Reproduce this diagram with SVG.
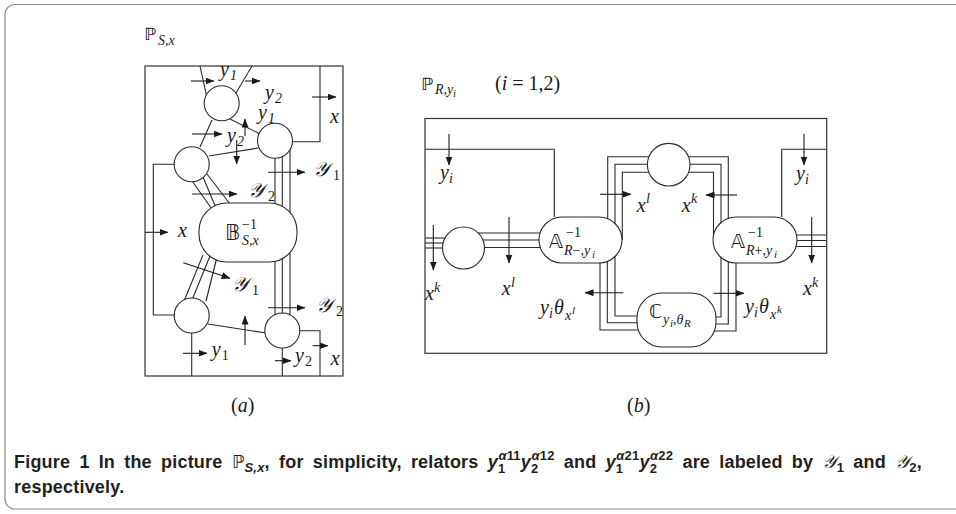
<svg xmlns="http://www.w3.org/2000/svg" width="956" height="514" viewBox="0 0 956 514">
<defs>
<marker id="ah" markerWidth="9" markerHeight="7" refX="8.5" refY="3.5" orient="auto" markerUnits="userSpaceOnUse"><path d="M0,0 L9,3.5 L0,7 z" fill="#1a1a1a"/></marker>
</defs>
<style>
.frame{fill:none;stroke:#8a8a8a;stroke-width:1.2}
.box{fill:none;stroke:#333;stroke-width:1.2}
.ln{fill:none;stroke:#2a2a2a;stroke-width:1.1}
.ar{fill:none;stroke:#1a1a1a;stroke-width:1.1;marker-end:url(#ah)}
.nd{fill:#fff;stroke:#2a2a2a;stroke-width:1.1}
.t{font-family:"Liberation Serif",serif;font-style:italic;font-size:20px;fill:#1a1a1a}
.s{font-size:14px}
.ss{font-size:11px}
.up{font-style:normal}
.bb{font-family:"DejaVu Sans",sans-serif;font-style:normal}
.cap{font-family:"Liberation Sans",sans-serif;font-weight:bold;font-size:18px;fill:#231f20}
.ci{font-style:italic}
.cs{font-size:13px}
</style>
<rect width="956" height="514" fill="#fff"/>
<path class="frame" d="M960,4.5 H15 A10,10 0 0 0 5,14.5 V499 A10,10 0 0 0 15,509 H960"/>

<rect id="frame-a" class="box" x="145" y="66" width="198" height="310"/>
<g id="connectors">
 <!-- panel a -->
 <line class="ln" x1="200" y1="66" x2="207" y2="98"/>
 <line class="ln" x1="252" y1="66" x2="233" y2="98"/>
 <line class="ar" x1="191" y1="81" x2="214" y2="81"/>
 <line class="ar" x1="245" y1="81" x2="260" y2="81"/>
 <path class="ln" d="M292,141.7 H320 V66"/>
 <line class="ar" x1="312" y1="97" x2="336" y2="97"/>
 <line class="ln" x1="230" y1="119" x2="260" y2="134"/>
 <line class="ar" x1="245" y1="136" x2="245" y2="119"/>
 <line class="ln" x1="212" y1="120" x2="200" y2="147"/>
 <line class="ar" x1="192" y1="134" x2="222" y2="134"/>
 <line class="ln" x1="209" y1="156" x2="258" y2="148"/>
 <line class="ar" x1="236.7" y1="140" x2="236.7" y2="164"/>
 <path class="ln" d="M175,164.3 H153.3 V315 H175"/>
 <line class="ar" x1="145" y1="232.3" x2="168" y2="232.3"/>
 <line class="ln" x1="275" y1="150" x2="275" y2="325"/>
 <line class="ln" x1="282.3" y1="150" x2="282.3" y2="325"/>
 <line class="ln" x1="290" y1="148" x2="290" y2="325"/>
 <line class="ar" x1="268" y1="172.3" x2="305" y2="172.3"/>
 <line class="ln" x1="190" y1="178" x2="214" y2="212"/>
 <line class="ln" x1="203" y1="177" x2="216" y2="208"/>
 <line class="ln" x1="207" y1="174" x2="230" y2="204"/>
 <line class="ar" x1="192" y1="194" x2="237" y2="194"/>
 <line class="ln" x1="203" y1="255" x2="184" y2="301"/>
 <line class="ln" x1="210" y1="256" x2="192" y2="300"/>
 <line class="ln" x1="217" y1="257" x2="206" y2="301"/>
 <line class="ar" x1="183.3" y1="262.7" x2="230" y2="278.3"/>
 <line class="ar" x1="268" y1="307.7" x2="305" y2="307.7"/>
 <line class="ln" x1="208" y1="324" x2="266" y2="333"/>
 <line class="ar" x1="245" y1="345" x2="245" y2="316"/>
 <line class="ln" x1="191.7" y1="333" x2="191.7" y2="376"/>
 <line class="ar" x1="183" y1="353.3" x2="207" y2="353.3"/>
 <line class="ln" x1="282.3" y1="348" x2="282.3" y2="376"/>
 <line class="ar" x1="275" y1="360.7" x2="291" y2="360.7"/>
 <path class="ln" d="M299.5,330.7 H320 V376"/>
 <line class="ar" x1="312.7" y1="345.7" x2="328" y2="345.7"/>

 <!-- panel b -->
 <path class="ln" d="M425,149.3 H554.3 V217"/>
 <line class="ar" x1="449" y1="134" x2="449" y2="165"/>
 <line class="ln" x1="470" y1="233" x2="550" y2="233"/>
 <line class="ln" x1="470" y1="240" x2="550" y2="240"/>
 <line class="ln" x1="470" y1="247.5" x2="550" y2="247.5"/>
 <line class="ar" x1="509" y1="217" x2="509" y2="263"/>
 <line class="ln" x1="425" y1="238" x2="455" y2="238"/>
 <line class="ln" x1="425" y1="243" x2="455" y2="243"/>
 <line class="ln" x1="425" y1="248" x2="455" y2="248"/>
 <line class="ar" x1="433.3" y1="225" x2="433.3" y2="270"/>
 <path class="ln" d="M655,156.7 H607.7 V240"/>
 <path class="ln" d="M655,164.3 H615 V240"/>
 <path class="ln" d="M655,172.3 H622.3 V240"/>
 <line class="ar" x1="600" y1="194.3" x2="631" y2="194.3"/>
 <path class="ln" d="M682,156.7 H728.3 V240"/>
 <path class="ln" d="M682,164.3 H721 V240"/>
 <path class="ln" d="M682,172.3 H713.5 V240"/>
 <line class="ar" x1="737" y1="195" x2="706" y2="195"/>
 <path class="ln" d="M826.7,149.3 H781.7 V217"/>
 <line class="ar" x1="804" y1="134" x2="804" y2="165"/>
 <line class="ln" x1="790" y1="235" x2="826.7" y2="235"/>
 <line class="ln" x1="790" y1="240.5" x2="826.7" y2="240.5"/>
 <line class="ln" x1="790" y1="246.5" x2="826.7" y2="246.5"/>
 <line class="ar" x1="811.7" y1="217" x2="811.7" y2="263"/>
 <path class="ln" d="M721,250 V317 H705"/>
 <path class="ln" d="M728.3,250 V324 H705"/>
 <path class="ln" d="M736,250 V331 H705"/>
 <line class="ar" x1="713.3" y1="293.3" x2="744" y2="293.3"/>
 <path class="ln" d="M600,250 V330 H650"/>
 <path class="ln" d="M607.3,250 V322.7 H650"/>
 <path class="ln" d="M615,250 V316 H650"/>
 <line class="ar" x1="623.3" y1="292.7" x2="585" y2="292.7"/>
</g>

<g id="node-a-c1"><circle class="nd" cx="221.7" cy="103.3" r="17.5"/></g>
<g id="node-a-c2"><circle class="nd" cx="275" cy="140.7" r="17.5"/></g>
<g id="node-a-c3"><circle class="nd" cx="191.7" cy="164.3" r="17.5"/></g>
<g id="node-a-c4"><circle class="nd" cx="191.7" cy="315.5" r="17.5"/></g>
<g id="node-a-c5"><circle class="nd" cx="282.3" cy="330.5" r="17.5"/></g>
<g id="node-a-B"><rect class="nd" x="199" y="203" width="98" height="59" rx="28" ry="28"/>
 <text class="t"><tspan class="bb" x="225" y="240" font-size="21">𝔹</tspan><tspan class="s up" x="242" y="229" font-size="15">−1</tspan><tspan class="s" x="242" y="245" font-size="15">S,x</tspan></text>
</g>

<g id="frame-b"><rect class="box" x="425" y="118.5" width="401.7" height="234.8"/></g>
<g id="node-b-cl"><circle class="nd" cx="463.5" cy="248" r="21"/></g>
<g id="node-b-ct"><circle class="nd" cx="668.7" cy="164.7" r="21.3"/></g>
<g id="node-b-Aminus"><rect class="nd" x="539" y="217" width="83" height="46" rx="23" ry="23"/>
 <text class="t"><tspan class="bb" x="549" y="248" font-size="19">𝔸</tspan><tspan class="s up" x="566" y="237" font-size="15">−1</tspan><tspan class="s" x="564" y="255">R<tspan class="up">−</tspan>,y</tspan><tspan class="ss" x="592" y="258">i</tspan></text>
</g>
<g id="node-b-Aplus"><rect class="nd" x="713" y="217" width="84" height="46" rx="23" ry="23"/>
 <text class="t"><tspan class="bb" x="731" y="248" font-size="19">𝔸</tspan><tspan class="s up" x="748" y="237" font-size="15">−1</tspan><tspan class="s" x="746" y="255">R<tspan class="up">+</tspan>,y</tspan><tspan class="ss" x="774" y="258">i</tspan></text>
</g>
<g id="node-b-C"><rect class="nd" x="637" y="293" width="79" height="54" rx="25" ry="25"/>
 <text class="t"><tspan class="bb" x="649" y="318" font-size="19">ℂ</tspan><tspan class="s" x="663" y="324">y</tspan><tspan class="ss" x="670" y="327">i</tspan><tspan class="s" x="673" y="324">,θ</tspan><tspan class="ss" x="684" y="327">R</tspan></text>
</g>

<g id="labels-a">
 <text class="t"><tspan class="bb" x="144" y="40" font-size="17">ℙ</tspan><tspan class="s" x="158" y="45">S,x</tspan></text>
 <text class="t" x="220" y="76">y<tspan class="s" x="230" y="80">1</tspan></text>
 <text class="t" x="265" y="99">y<tspan class="s" x="275" y="103">2</tspan></text>
 <text class="t" x="258" y="119">y<tspan class="s" x="268" y="123">1</tspan></text>
 <text class="t" x="330" y="123">x</text>
 <text class="t" x="227" y="142">y<tspan class="s" x="237" y="146">2</tspan></text>
 <text class="t" x="313" y="176">𝒴<tspan class="s up" x="333" y="180">1</tspan></text>
 <text class="t" x="178" y="237">x</text>
 <text class="t" x="248" y="197">𝒴<tspan class="s up" x="268" y="201">2</tspan></text>
 <text class="t" x="232" y="291">𝒴<tspan class="s up" x="252" y="295">1</tspan></text>
 <text class="t" x="316" y="312">𝒴<tspan class="s up" x="336" y="316">2</tspan></text>
 <text class="t" x="211.7" y="356">y<tspan class="s up" x="221.7" y="360">1</tspan></text>
 <text class="t" x="295" y="362">y<tspan class="s up" x="305" y="366">2</tspan></text>
 <text class="t" x="330.7" y="365">x</text>
 <text class="t" x="231" y="412"><tspan class="up">(</tspan>a<tspan class="up">)</tspan></text>
</g>
<g id="labels-b">
 <text class="t"><tspan class="bb" x="421" y="90" font-size="17">ℙ</tspan><tspan class="s" x="435" y="94">R,y</tspan><tspan class="ss" x="453" y="97">i</tspan></text>
 <text class="t" x="495" y="90"><tspan class="up">(</tspan>i <tspan class="up">= 1,2)</tspan></text>
 <text class="t" x="440" y="179">y<tspan class="s" x="449" y="183">i</tspan></text>
 <text class="t" x="636.7" y="211.7">x<tspan class="s" x="646" y="203">l</tspan></text>
 <text class="t" x="681.7" y="211.7">x<tspan class="s" x="691" y="203">k</tspan></text>
 <text class="t" x="796" y="180">y<tspan class="s" x="805" y="184">i</tspan></text>
 <text class="t" x="501.7" y="295">x<tspan class="s" x="511" y="287">l</tspan></text>
 <text class="t" x="425" y="300">x<tspan class="s" x="434" y="292">k</tspan></text>
 <text class="t" x="803" y="295">x<tspan class="s" x="812" y="287">k</tspan></text>
 <text class="t" x="540" y="314">y<tspan class="s" x="549" y="318">i</tspan><tspan x="554" y="314">θ</tspan><tspan class="s" x="565" y="320">x</tspan><tspan class="ss" x="572" y="314">l</tspan></text>
 <text class="t" x="745" y="313">y<tspan class="s" x="754" y="317">i</tspan><tspan x="759" y="313">θ</tspan><tspan class="s" x="770" y="319">x</tspan><tspan class="ss" x="777" y="313">k</tspan></text>
 <text class="t" x="627" y="412"><tspan class="up">(</tspan>b<tspan class="up">)</tspan></text>
</g>

<g id="caption">
 <text class="cap" x="14" y="468" word-spacing="4" letter-spacing="0.2">Figure 1<tspan dx="9">In the picture </tspan><tspan font-family="DejaVu Sans" font-weight="normal">ℙ</tspan><tspan class="ci cs" dy="4">S,x</tspan><tspan dy="-4">, for simplicity, relators </tspan><tspan class="ci">y</tspan><tspan class="cs" dy="5">1</tspan><tspan class="ci cs" dx="-7" dy="-13">α</tspan><tspan class="cs">11</tspan><tspan class="ci" dy="8">y</tspan><tspan class="cs" dy="5">2</tspan><tspan class="ci cs" dx="-7" dy="-13">α</tspan><tspan class="cs">12</tspan><tspan dy="8"> and </tspan><tspan class="ci">y</tspan><tspan class="cs" dy="5">1</tspan><tspan class="ci cs" dx="-7" dy="-13">α</tspan><tspan class="cs">21</tspan><tspan class="ci" dy="8">y</tspan><tspan class="cs" dy="5">2</tspan><tspan class="ci cs" dx="-7" dy="-13">α</tspan><tspan class="cs">22</tspan><tspan dy="8"> are labeled by </tspan><tspan font-weight="normal" font-family="Liberation Serif" font-style="italic">𝒴</tspan><tspan class="cs" dy="4">1</tspan><tspan dy="-4"> and </tspan><tspan font-weight="normal" font-family="Liberation Serif" font-style="italic">𝒴</tspan><tspan class="cs" dy="4">2</tspan><tspan dy="-4">,</tspan></text>
 <text class="cap" x="14" y="493" letter-spacing="0.2">respectively.</text>
</g>
</svg>
